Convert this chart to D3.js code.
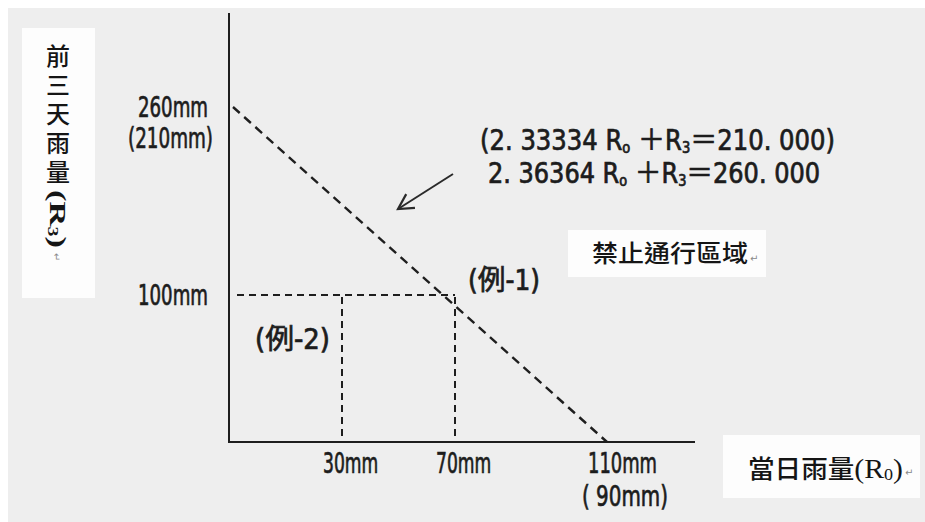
<!DOCTYPE html>
<html>
<head>
<meta charset="utf-8">
<script src="https://cdn.jsdelivr.net/npm/d3@7"></script>
<style>
  html, body { margin: 0; padding: 0; background: #fff; }
  svg { display: block; }
  .goth { font-family: "Liberation Sans Narrow", "DejaVu Sans Condensed", "Liberation Sans", "Noto Sans CJK JP", sans-serif; fill: #1c1c1c; stroke: #1c1c1c; stroke-width: 0.7; }
  .ming { font-family: "Noto Sans CJK TC", serif; font-weight: 500; fill: #151515; }
  .serif { font-family: "Liberation Serif", "DejaVu Serif", serif; }
  .mark { font-family: "DejaVu Sans", sans-serif; fill: #8a8a8a; }
</style>
</head>
<body>
<div id="chart"></div>
<script>
//axis ticks
const yTicks = [100, 260];
const yTickLabels = ["100mm", "260mm"];
const yTickSub = ["", "(210mm)"];
const xTicks = [30, 70, 110];
const xTickLabels = ["30mm", "70mm", "110mm"];
const xTickSub = ["", "", "( 90mm)"];

//limit line (R0, R3)
const limitR0 = [0, 110];
const limitR3 = [260, 0];

//examples
const exampleNames = ["(例-1)", "(例-2)"];
const exampleR0 = [70, 30];
const exampleR3 = [100, 100];

//equations
const eqCoef = ["2. 33334", "2. 36364"];
const eqRhs = ["210. 000", "260. 000"];
const eqParen = [true, false];

//titles
const yTitle = "前三天雨量";
const xTitle = "當日雨量";
const zoneLabel = "禁止通行區域";

//svg size
const width = 925;
const height = 522;

const svg = d3.select("#chart")
    .append("svg")
    .attr("width", width)
    .attr("height", height);

//paper background
svg.append("rect").attr("x", 8).attr("y", 8)
    .attr("width", width - 8).attr("height", height - 8)
    .attr("fill", "#eeeeee");

//scales (schematic, not to scale -> piecewise)
const x = d3.scaleLinear().domain([0, 30, 70, 110]).range([233, 342, 455, 607]);
const y = d3.scaleLinear().domain([0, 100, 260]).range([442, 295, 107]);

const axisX = 229;
const axisTop = 13;
const axisRight = 695;
const ink = "#1e1e1e";

//white label boxes
svg.append("rect").attr("x", 22).attr("y", 28).attr("width", 73).attr("height", 270).attr("fill", "#fdfdfd");
svg.append("rect").attr("x", 568).attr("y", 230).attr("width", 198).attr("height", 47).attr("fill", "#fdfdfd");
svg.append("rect").attr("x", 723).attr("y", 435).attr("width", 197).attr("height", 63).attr("fill", "#fdfdfd");

//axes
svg.append("line")
    .attr("x1", axisX).attr("x2", axisX)
    .attr("y1", axisTop).attr("y2", y(0) + 1)
    .attr("stroke", ink).attr("stroke-width", 2);
svg.append("line")
    .attr("x1", axisX - 1).attr("x2", axisRight)
    .attr("y1", y(0)).attr("y2", y(0))
    .attr("stroke", ink).attr("stroke-width", 2);

//y tick labels
const gY = svg.append("g").attr("class", "goth");
gY.selectAll("text.main")
    .data(yTicks)
    .join("text")
    .attr("class", "main")
    .attr("x", axisX - 21)
    .attr("y", (d) => y(d) + 10)
    .attr("text-anchor", "end")
    .attr("font-size", 28)
    .attr("textLength", (d, i) => yTickLabels[i].length * 14)
    .attr("lengthAdjust", "spacingAndGlyphs")
    .text((d, i) => yTickLabels[i]);
gY.selectAll("text.sub")
    .data(yTicks.filter((d, i) => yTickSub[i]))
    .join("text")
    .attr("class", "sub")
    .attr("x", axisX - 16)
    .attr("y", (d) => y(d) + 41)
    .attr("text-anchor", "end")
    .attr("font-size", 28)
    .attr("textLength", 85)
    .attr("lengthAdjust", "spacingAndGlyphs")
    .text((d) => yTickSub[yTicks.indexOf(d)]);

//x tick labels
const gX = svg.append("g").attr("class", "goth");
gX.selectAll("text.main")
    .data(xTicks)
    .join("text")
    .attr("class", "main")
    .attr("x", (d) => x(d) - 19)
    .attr("y", y(0) + 31)
    .attr("font-size", 29)
    .attr("textLength", (d, i) => xTickLabels[i].length * 13.8)
    .attr("lengthAdjust", "spacingAndGlyphs")
    .text((d, i) => xTickLabels[i]);
gX.selectAll("text.sub")
    .data(xTicks.filter((d, i) => xTickSub[i]))
    .join("text")
    .attr("class", "sub")
    .attr("x", (d) => x(d) - 25)
    .attr("y", y(0) + 64)
    .attr("font-size", 29)
    .attr("textLength", 86)
    .attr("lengthAdjust", "spacingAndGlyphs")
    .text((d) => xTickSub[xTicks.indexOf(d)]);

//limit line
const limitData = limitR0.map((d, i) => [d, limitR3[i]]);
svg.append("path")
    .datum(limitData)
    .attr("d", d3.line().x((d) => x(d[0])).y((d) => y(d[1])))
    .attr("fill", "none")
    .attr("stroke", ink)
    .attr("stroke-width", 2.4)
    .attr("stroke-dasharray", "9,6");

//example guides
const examples = exampleNames.map((name, i) => ({ name, r0: exampleR0[i], r3: exampleR3[i] }));
const gEx = svg.append("g");
gEx.selectAll("line.h")
    .data(examples)
    .join("line")
    .attr("class", "h")
    .attr("x1", x(0) + 4).attr("x2", (d) => x(d.r0))
    .attr("y1", (d) => y(d.r3)).attr("y2", (d) => y(d.r3))
    .attr("stroke", ink).attr("stroke-width", 2)
    .attr("stroke-dasharray", "7,5");
gEx.selectAll("line.v")
    .data(examples)
    .join("line")
    .attr("class", "v")
    .attr("x1", (d) => x(d.r0)).attr("x2", (d) => x(d.r0))
    .attr("y1", (d) => y(d.r3) + 2).attr("y2", y(0))
    .attr("stroke", ink).attr("stroke-width", 2)
    .attr("stroke-dasharray", "7,5");

//example labels: (例-1) right of point, (例-2) left-below
gEx.selectAll("text")
    .data(examples)
    .join("text")
    .attr("class", "goth")
    .attr("x", (d, i) => (i === 0 ? x(d.r0) + 13 : x(d.r0) - 87))
    .attr("y", (d, i) => (i === 0 ? y(d.r3) - 5 : y(d.r3) + 54))
    .attr("font-size", 28)
    .attr("textLength", (d, i) => (i === 0 ? 72 : 75))
    .attr("lengthAdjust", "spacingAndGlyphs")
    .text((d) => d.name);

//equations
const gEq = svg.append("g").attr("class", "goth");
eqCoef.forEach((coef, i) => {
  const t = gEq.append("text")
      .attr("x", i === 0 ? 480 : 488)
      .attr("y", 150 + i * 33)
      .attr("font-size", 28)
      .attr("textLength", i === 0 ? 355 : 332)
      .attr("lengthAdjust", "spacingAndGlyphs");
  t.append("tspan").text((eqParen[i] ? "(" : "") + coef);
  t.append("tspan").text(" R");
  t.append("tspan").attr("font-size", 15).attr("dy", 3).text("o");
  t.append("tspan").attr("dy", -3).text(" ＋R");
  t.append("tspan").attr("font-size", 15).attr("dy", 3).text("3");
  t.append("tspan").attr("dy", -3).text("＝" + eqRhs[i] + (eqParen[i] ? ")" : ""));
});

//arrow
const arrowFrom = [453, 174];
const arrowTo = [398, 209];
const ang = Math.atan2(arrowTo[1] - arrowFrom[1], arrowTo[0] - arrowFrom[0]);
const headLen = 17;
const head = [-0.5, 0.5].map((a) => [
  arrowTo[0] - headLen * Math.cos(ang + a),
  arrowTo[1] - headLen * Math.sin(ang + a),
]);
svg.append("line")
    .attr("x1", arrowFrom[0]).attr("y1", arrowFrom[1])
    .attr("x2", arrowTo[0]).attr("y2", arrowTo[1])
    .attr("stroke", "#2a2a2a").attr("stroke-width", 2);
svg.append("path")
    .attr("d", `M${head[0]}L${arrowTo}L${head[1]}`)
    .attr("fill", "none")
    .attr("stroke", "#2a2a2a").attr("stroke-width", 2.2);

//y title (vertical writing)
const gYT = svg.append("g");
gYT.append("text")
    .attr("class", "ming")
    .attr("writing-mode", "vertical-rl")
    .attr("x", 58)
    .attr("y", 44)
    .attr("font-size", 24)
    .attr("letter-spacing", 5)
    .text(yTitle);
const r3 = gYT.append("text")
    .attr("class", "serif")
    .attr("transform", "translate(58,190) rotate(90)")
    .attr("dominant-baseline", "central")
    .attr("font-size", 24)
    .attr("font-weight", "bold")
    .attr("fill", "#151515")
    .attr("textLength", 58)
    .attr("lengthAdjust", "spacingAndGlyphs");
r3.append("tspan").text("(R");
r3.append("tspan").attr("font-size", 14).attr("dy", 5).text("3");
r3.append("tspan").attr("dy", -5).text(")");
gYT.append("text")
    .attr("class", "mark")
    .attr("transform", "translate(56,257) rotate(90)")
    .attr("text-anchor", "middle")
    .attr("dominant-baseline", "central")
    .attr("font-size", 10)
    .text("↵");

//zone label
svg.append("text")
    .attr("class", "ming")
    .attr("x", 592)
    .attr("y", 262)
    .attr("font-size", 24)
    .attr("textLength", 156)
    .attr("lengthAdjust", "spacingAndGlyphs")
    .text(zoneLabel);
svg.append("text").attr("class", "mark")
    .attr("x", 750).attr("y", 262).attr("font-size", 10).text("↵");

//x title
const xt = svg.append("text")
    .attr("x", 748)
    .attr("y", 478)
    .attr("font-size", 25)
    .attr("fill", "#151515")
    .attr("textLength", 155)
    .attr("lengthAdjust", "spacingAndGlyphs");
xt.append("tspan").attr("class", "ming").text(xTitle);
xt.append("tspan").attr("class", "serif").attr("font-size", 28).text("(R");
xt.append("tspan").attr("class", "serif").attr("font-size", 17).attr("dy", 2).text("0");
xt.append("tspan").attr("class", "serif").attr("font-size", 28).attr("dy", -2).text(")");
svg.append("text").attr("class", "mark")
    .attr("x", 905).attr("y", 476).attr("font-size", 10).text("↵");
</script>
</body>
</html>
